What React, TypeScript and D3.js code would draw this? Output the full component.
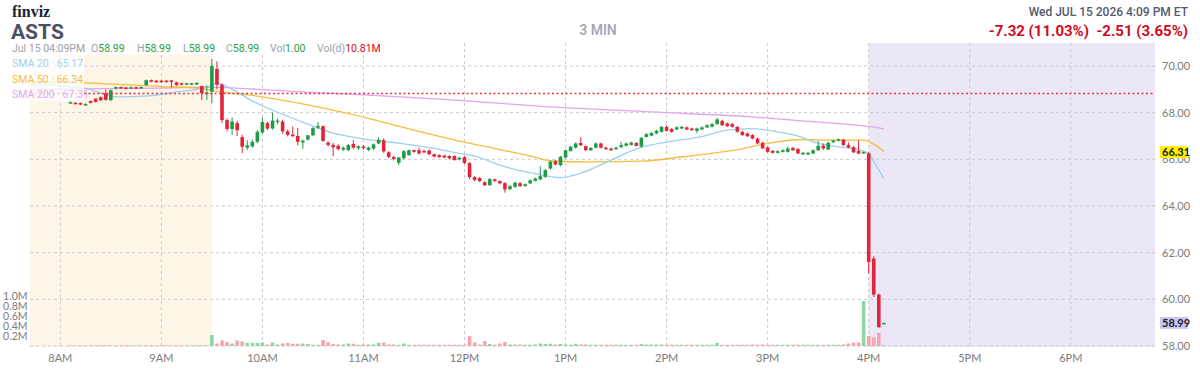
import React from "react";
import * as d3 from "d3";

const toMin = (s: string) => {
  const [h, m] = s.split(":").map(Number);
  return h * 60 + m;
};

// ---------- sessions ----------
const preStart = "08:06";
const regStart = "09:30";
const ahStart = "16:00";
const barMinutes = 3;

const preO = [68.43,68.42,68.41,68.34,68.50,68.60,68.66,68.83,68.54,69.04,69.10,69.08,69.04,69.09,69.04,69.18,69.39,69.37,69.37,69.37,69.38,69.30,69.26,69.20,69.22,69.21,69.14,68.82];
const preH = [68.48,68.44,68.43,68.40,68.52,68.62,68.70,69.00,69.00,69.12,69.12,69.10,69.12,69.12,69.12,69.42,69.42,69.40,69.40,69.40,69.40,69.33,69.28,69.28,69.28,69.30,69.16,69.17];
const preL = [68.40,68.38,68.33,68.31,68.40,68.44,68.50,68.52,68.50,69.00,69.02,69.00,69.02,69.02,69.02,69.15,69.30,69.28,69.28,69.30,69.08,69.15,69.18,69.18,69.20,69.19,68.54,68.54];
const preC = [68.45,68.40,68.35,68.37,68.42,68.46,68.53,68.55,68.96,69.10,69.05,69.03,69.09,69.05,69.10,69.39,69.33,69.31,69.31,69.33,69.33,69.18,69.20,69.26,69.26,69.28,68.84,68.86];
const preV = [0.003,0.002,0.003,0.002,0.003,0.003,0.002,0.004,0.005,0.002,0.002,0.002,0.002,0.002,0.002,0.004,0.002,0.002,0.002,0.002,0.003,0.002,0.002,0.002,0.002,0.002,0.006,0.004];

const regO = [
  68.90,69.88,69.20,67.68,67.30,67.55,66.95,66.50,66.55,66.75,
  67.15,67.55,67.32,67.60,67.62,67.20,67.06,67.00,66.72,66.85,
  67.03,67.36,67.42,66.72,66.62,66.58,66.42,66.40,66.66,66.48,
  66.55,66.40,66.46,66.68,66.82,66.30,66.10,65.85,66.05,66.18,
  66.39,66.39,66.36,66.38,66.22,66.18,66.16,66.14,66.14,66.00,
  66.09,65.84,65.24,65.20,65.02,64.89,65.14,65.07,64.98,64.72,
  64.82,64.98,64.86,64.97,65.08,65.14,65.25,65.61,65.92,65.75,
  66.08,66.36,66.50,66.70,66.56,66.39,66.50,66.68,66.50,66.46,
  66.44,66.52,66.58,66.62,66.70,66.55,66.96,67.02,67.11,67.18,
  67.39,67.30,67.28,67.32,67.37,67.32,67.22,67.28,67.37,67.40,
  67.51,67.65,67.54,67.51,67.39,67.18,67.11,67.04,66.89,66.71,
  66.51,66.36,66.28,66.32,66.32,66.49,66.44,66.21,66.21,66.25,
  66.39,66.58,66.42,66.73,66.80,66.84,66.61,66.52,66.36,66.28];
const regH = [
  70.30,70.20,69.25,67.75,67.80,67.65,67.05,66.82,66.85,67.25,
  67.78,67.62,68.00,67.75,67.70,67.28,67.40,67.35,66.85,67.05,
  67.38,67.60,67.45,66.78,66.70,66.65,66.55,66.65,66.82,66.60,
  66.62,66.55,66.68,66.95,66.90,66.35,66.15,66.10,66.40,66.42,
  66.42,66.50,66.40,66.42,66.25,66.22,66.20,66.18,66.18,66.10,
  66.15,65.88,65.28,65.24,65.06,65.20,65.18,65.10,65.02,64.90,
  65.04,65.02,64.96,65.14,65.22,65.70,65.58,65.95,65.98,66.15,
  66.42,66.58,66.72,66.95,66.60,66.52,66.72,66.72,66.54,66.50,
  66.54,66.75,66.72,66.76,66.74,66.96,67.12,67.17,67.26,67.43,
  67.46,67.34,67.41,67.43,67.41,67.36,67.36,67.41,67.50,67.55,
  67.78,67.69,67.58,67.55,67.43,67.22,67.15,67.08,66.93,66.75,
  66.55,66.40,66.39,66.43,66.55,66.53,66.48,66.32,66.32,66.43,
  66.80,66.68,66.75,66.84,66.90,66.88,66.72,66.56,66.82,66.34];
const regL = [
  68.40,69.00,67.55,67.20,67.05,67.00,66.27,66.40,66.50,66.70,
  67.10,67.25,67.28,67.50,67.10,66.98,66.95,66.60,66.45,66.80,
  67.00,67.30,66.75,66.55,66.14,66.38,66.35,66.35,66.45,66.40,
  66.42,66.35,66.40,66.65,66.28,66.05,65.95,65.75,66.00,66.15,
  66.28,66.20,66.28,66.18,66.08,66.05,66.05,66.00,65.94,65.96,
  65.80,65.15,65.05,65.02,64.85,64.86,65.04,64.93,64.57,64.68,
  64.78,64.82,64.83,64.94,65.05,65.10,65.20,65.55,65.74,65.70,
  66.05,66.33,66.47,66.57,66.35,66.36,66.47,66.46,66.41,66.36,
  66.41,66.49,66.55,66.59,66.55,66.50,66.93,66.99,67.08,67.15,
  67.19,67.15,67.25,67.29,67.25,67.22,67.12,67.25,67.34,67.37,
  67.48,67.43,67.39,67.36,67.15,67.01,66.96,66.86,66.65,66.44,
  66.29,66.25,66.25,66.29,66.29,66.36,66.22,66.18,66.18,66.22,
  66.36,66.40,66.39,66.70,66.77,66.58,66.48,66.27,66.22,66.25];
const regC = [
  70.00,69.20,67.68,67.30,67.62,67.25,66.54,66.60,66.75,67.18,
  67.60,67.32,67.66,67.66,67.20,67.05,67.00,66.75,66.80,67.03,
  67.34,67.43,66.79,66.62,66.52,66.44,66.50,66.61,66.50,66.56,
  66.48,66.50,66.64,66.84,66.34,66.10,66.02,66.08,66.35,66.39,
  66.32,66.25,66.30,66.22,66.12,66.10,66.08,66.04,65.97,66.07,
  65.84,65.24,65.11,65.07,64.89,65.15,65.07,64.97,64.71,64.85,
  65.00,64.85,64.93,65.10,65.18,65.28,65.54,65.90,65.78,66.11,
  66.39,66.54,66.68,66.60,66.39,66.49,66.68,66.50,66.44,66.39,
  66.50,66.61,66.68,66.72,66.58,66.92,67.08,67.13,67.22,67.39,
  67.22,67.18,67.37,67.39,67.28,67.25,67.32,67.37,67.46,67.51,
  67.71,67.46,67.42,67.39,67.18,67.04,66.99,66.89,66.68,66.47,
  66.32,66.28,66.35,66.39,66.46,66.39,66.25,66.28,66.28,66.39,
  66.58,66.47,66.71,66.80,66.86,66.61,66.51,66.30,66.25,66.31];
const regV = [
  0.22,0.05,0.11,0.08,0.05,0.11,0.09,0.06,0.06,0.06,
  0.07,0.03,0.07,0.03,0.05,0.06,0.045,0.045,0.05,0.04,
  0.025,0.025,0.12,0.075,0.04,0.03,0.03,0.05,0.045,0.025,
  0.03,0.03,0.03,0.065,0.07,0.03,0.03,0.025,0.05,0.025,
  0.025,0.025,0.025,0.025,0.025,0.025,0.025,0.025,0.025,0.025,
  0.025,0.2,0.07,0.03,0.1,0.04,0.025,0.05,0.08,0.03,
  0.03,0.03,0.025,0.025,0.03,0.05,0.04,0.045,0.03,0.04,
  0.03,0.025,0.045,0.03,0.03,0.025,0.025,0.025,0.025,0.025,
  0.025,0.025,0.025,0.025,0.025,0.04,0.03,0.03,0.03,0.03,
  0.025,0.025,0.025,0.025,0.025,0.025,0.025,0.025,0.025,0.025,
  0.06,0.025,0.025,0.025,0.025,0.025,0.025,0.03,0.025,0.03,
  0.025,0.025,0.025,0.025,0.025,0.025,0.025,0.025,0.025,0.025,
  0.025,0.025,0.025,0.025,0.025,0.03,0.05,0.07,0.07,0.9];

const ahO = [66.26, 61.75, 60.20, 58.97];
const ahH = [66.30, 61.85, 60.25, 58.99];
const ahL = [61.10, 60.10, 58.78, 58.97];
const ahC = [61.60, 60.20, 58.81, 58.99];
const ahV = [0.2, 0.17, 0.26, 0.00001];

// ---------- moving averages ----------
const sma20T = ["07:42","08:14","08:34","08:53","09:10","09:27","09:33","09:42","09:53","10:03","10:23","10:42","10:58","11:22","11:42","11:52","12:08","12:21","12:41","12:57","13:11","13:27","13:43","14:01","14:20","14:36","14:50","15:06","15:20","15:27","15:42","15:55","16:00","16:03","16:06","16:09"];
const sma20V = [69.22,69.05,68.68,68.72,68.90,69.08,69.25,69.00,68.54,68.20,67.62,67.12,66.90,66.68,66.47,66.32,66.10,65.75,65.40,65.22,65.46,65.97,66.47,66.75,66.96,67.25,67.32,67.18,66.95,66.75,66.54,66.39,66.25,65.90,65.55,65.17];
const sma50T = ["07:42","08:14","09:00","09:23","09:35","09:53","10:23","10:52","11:22","11:52","12:21","12:41","12:51","13:15","13:45","14:10","14:40","15:00","15:20","15:40","15:57","16:03","16:09"];
const sma50V = [69.33,69.28,69.12,69.04,68.89,68.75,68.39,67.95,67.40,66.87,66.42,66.11,65.94,65.89,65.92,66.11,66.39,66.68,66.85,66.82,66.82,66.65,66.34];
const sma200T = ["07:42","09:00","09:27","09:35","10:23","11:22","11:52","12:51","13:51","14:50","15:20","15:37","15:59","16:09"];
const sma200V = [69.00,69.05,69.10,69.08,68.89,68.68,68.55,68.25,68.03,67.82,67.65,67.56,67.42,67.31];

// ---------- axes ----------
const hourTicks = ["08:00","09:00","10:00","11:00","12:00","13:00","14:00","15:00","16:00","17:00","18:00"];
const hourLabels = ["8AM","9AM","10AM","11AM","12PM","1PM","2PM","3PM","4PM","5PM","6PM"];
const priceTicks = [58, 60, 62, 64, 66, 68, 70];
const volTicks = [0.2, 0.4, 0.6, 0.8, 1.0];
const volLabels = ["0.2M", "0.4M", "0.6M", "0.8M", "1.0M"];

const prevClose = 68.82;
const regClose = 66.31;
const lastPrice = 58.99;

const GREEN = "#1f9b45";
const RED = "#e1253a";
const VGREEN = "#93d4a6";
const VRED = "#f4a6b0";

type Bar = { t: number; o: number; h: number; l: number; c: number; v: number };

function buildSession(start: string, o: number[], h: number[], l: number[], c: number[], v: number[]): Bar[] {
  const s = toMin(start);
  return o.map((_, i) => ({ t: s + i * barMinutes, o: o[i], h: h[i], l: l[i], c: c[i], v: v[i] }));
}

export default function App() {
  const bars = [
    ...buildSession(preStart, preO, preH, preL, preC, preV),
    ...buildSession(regStart, regO, regH, regL, regC, regV),
    ...buildSession(ahStart, ahO, ahH, ahL, ahC, ahV),
  ];

  const left = 30, right = 1155, top = 43, bottom = 347;
  const x = d3.scaleLinear().domain([toMin("07:42"), toMin("18:50")]).range([left, right]);
  const y = d3.scaleLinear().domain([58, 70]).range([346, 66]);
  const yv = d3.scaleLinear().domain([0, 1]).range([346, 296]);

  const mkLine = (T: string[], V: number[]) =>
    d3.line<number>()
      .x((_, i) => x(toMin(T[i])))
      .y((d) => y(d))
      .curve(d3.curveMonotoneX)(V) || "";

  const bw = 3.6;
  const axisFont = "Lato, 'Open Sans', sans-serif";
  const headFont = "Roboto, 'Open Sans', sans-serif";

  return (
    <svg width={1200} height={372} style={{ position: "absolute", left: 0, top: 0, background: "#fff" }}>
      {/* session shading */}
      <rect x={left} y={top} width={x(toMin(regStart)) - left} height={bottom - top} fill="#fef5e9" />
      <rect x={x(toMin(ahStart))} y={top} width={right - x(toMin(ahStart))} height={bottom - top} fill="#ebe7f7" />

      {/* grid */}
      {priceTicks.map((p) => (
        <line key={"g" + p} x1={left} x2={right} y1={y(p)} y2={y(p)} stroke="#c9c9c9" strokeDasharray="3 3" />
      ))}
      {hourTicks.map((t) => (
        <line key={"v" + t} x1={x(toMin(t))} x2={x(toMin(t))} y1={top} y2={bottom} stroke="#c9c9c9" strokeDasharray="3 3" />
      ))}

      {/* volume */}
      {bars.map((b, i) => {
        const up = b.c >= b.o;
        const h = Math.max(0.6, yv(0) - yv(b.v));
        return (
          <rect key={"vb" + i} x={x(b.t) - bw / 2} y={yv(0) - h} width={bw} height={h} fill={up ? VGREEN : VRED} />
        );
      })}

      {/* moving averages */}
      <path d={mkLine(sma200T, sma200V)} fill="none" stroke="#e3a4ef" strokeWidth={1.3} />
      <path d={mkLine(sma50T, sma50V)} fill="none" stroke="#f4bd3c" strokeWidth={1.3} />
      <path d={mkLine(sma20T, sma20V)} fill="none" stroke="#9fcfec" strokeWidth={1.3} />

      {/* candles */}
      {bars.map((b, i) => {
        const up = b.c >= b.o;
        const col = up ? GREEN : RED;
        const y1 = y(Math.max(b.o, b.c));
        const y2 = y(Math.min(b.o, b.c));
        const hgt = Math.max(1.5, y2 - y1);
        return (
          <g key={"c" + i}>
            <line x1={x(b.t)} x2={x(b.t)} y1={y(b.h)} y2={y(b.l)} stroke={col} strokeWidth={1} />
            <rect x={x(b.t) - bw / 2} y={y1} width={bw} height={hgt} fill={col} />
          </g>
        );
      })}

      {/* previous close */}
      <line x1={left} x2={right} y1={y(prevClose)} y2={y(prevClose)} stroke="#ec2d40" strokeWidth={1.5} strokeDasharray="2 2.5" />

      {/* overlays behind info / legend */}
      <rect x={0} y={top} width={380} height={12} fill="#fff" opacity={0.9} />
      <rect x={0} y={55} width={84} height={46} fill="#fff" opacity={0.75} />

      {/* header */}
      <text x={12} y={17} fontFamily="'Liberation Serif', serif" fontWeight={700} fontSize={16} fill="#1d2233">finviz</text>
      <text x={11} y={39} fontFamily={headFont} fontWeight={700} fontSize={21} fill="#4b4f65">ASTS</text>
      <text x={598} y={35} textAnchor="middle" fontFamily={headFont} fontWeight={500} fontSize={14} fill="#a2a4b2">3 MIN</text>
      <text x={1188} y={16} textAnchor="end" fontFamily={headFont} fontWeight={500} fontSize={12} fill="#555a6e">Wed JUL 15 2026 4:09 PM ET</text>
      <text x={1188} y={36} textAnchor="end" fontFamily={headFont} fontWeight={700} fontSize={15} fill="#d10a1e" style={{ whiteSpace: "pre" }}>
        -7.32 (11.03%)  -2.51 (3.65%)
      </text>

      {/* OHLC info row */}
      <g fontFamily={headFont} fontSize={10.5}>
        <text x={12} y={52} fill="#9ea1ae">Jul 15 04:09PM</text>
        <text x={91} y={52}><tspan fill="#9ea1ae">O</tspan><tspan fill="#2a9d4a">58.99</tspan></text>
        <text x={137} y={52}><tspan fill="#9ea1ae">H</tspan><tspan fill="#2a9d4a">58.99</tspan></text>
        <text x={183} y={52}><tspan fill="#9ea1ae">L</tspan><tspan fill="#2a9d4a">58.99</tspan></text>
        <text x={226} y={52}><tspan fill="#9ea1ae">C</tspan><tspan fill="#2a9d4a">58.99</tspan></text>
        <text x={270} y={52}><tspan fill="#9ea1ae">Vol</tspan><tspan fill="#2a9d4a">1.00</tspan></text>
        <text x={317} y={52}><tspan fill="#9ea1ae">Vol(d)</tspan><tspan fill="#d10a1e">10.81M</tspan></text>
      </g>

      {/* legend */}
      <g fontFamily={headFont} fontSize={10.5}>
        <text x={12} y={67} fill="#9fcfec">SMA 20 · 65.17</text>
        <text x={12} y={83} fill="#f4bd3c">SMA 50 · 66.34</text>
        <text x={12} y={98} fill="#e3a4ef">SMA 200 · 67.31</text>
      </g>

      {/* price axis */}
      {priceTicks.map((p) => (
        <text key={"pl" + p} x={1162} y={y(p) + 4} fontFamily={axisFont} fontSize={11} fill="#7b7b7b">{p.toFixed(2)}</text>
      ))}
      <rect x={1160} y={y(regClose) - 6} width={28} height={12} fill="#fff200" />
      <text x={1162} y={y(regClose) + 4} fontFamily={axisFont} fontSize={11} fontWeight={700} fill="#222">{regClose.toFixed(2)}</text>
      <rect x={1160} y={y(lastPrice) - 6} width={28} height={12} fill="#cbc5f3" />
      <text x={1162} y={y(lastPrice) + 4} fontFamily={axisFont} fontSize={11} fontWeight={700} fill="#222">{lastPrice.toFixed(2)}</text>

      {/* volume axis */}
      {volTicks.map((v, i) => (
        <text key={"vl" + v} x={27.5} y={yv(v) + 4} textAnchor="end" fontFamily={axisFont} fontSize={10.5} fill="#7b7b7b">{volLabels[i]}</text>
      ))}

      {/* time axis */}
      {hourTicks.map((t, i) => (
        <text key={"tl" + t} x={x(toMin(t))} y={362} textAnchor="middle" fontFamily={axisFont} fontSize={11} fill="#7b7b7b">{hourLabels[i]}</text>
      ))}
    </svg>
  );
}
